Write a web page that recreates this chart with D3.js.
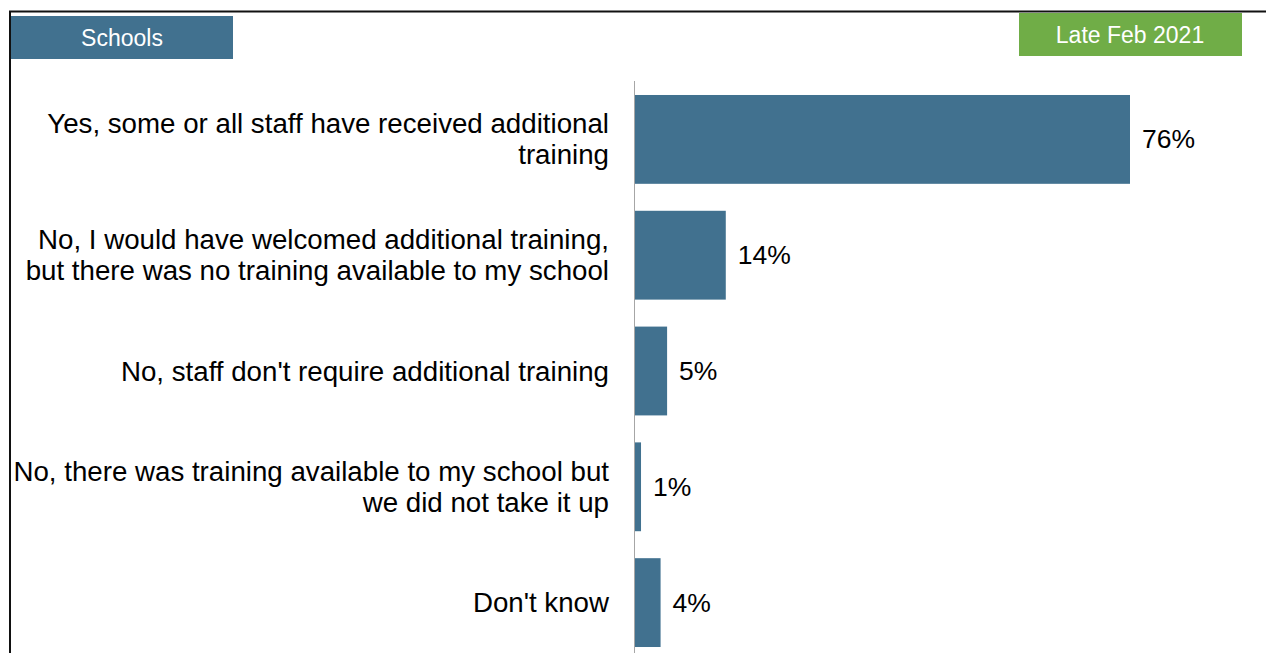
<!DOCTYPE html>
<html>
<head>
<meta charset="utf-8">
<script src="https://cdn.jsdelivr.net/npm/d3@7"></script>
<style>
  body { margin: 0; background: #fff; }
  text { font-family: "Liberation Sans", Arial, sans-serif; }
</style>
</head>
<body>
<div id="chart"></div>
<script>
const categories = [
    ["Yes, some or all staff have received additional", "training"],
    ["No, I would have welcomed additional training,", "but there was no training available to my school"],
    ["No, staff don't require additional training"],
    ["No, there was training available to my school but", "we did not take it up"],
    ["Don't know"]
];
const values = [76, 14, 5, 1, 4];
const keys = categories.map((c, i) => "c" + i);

const width = 1266;
const height = 653;
const barColor = "#41718f";

const svg = d3.select("#chart")
    .append("svg")
    .attr("width", width)
    .attr("height", height);

// frame lines
svg.append("line")
    .attr("x1", 9).attr("x2", width).attr("y1", 11.5).attr("y2", 11.5)
    .attr("stroke", "#111").attr("stroke-width", 2);
svg.append("line")
    .attr("x1", 10).attr("x2", 10).attr("y1", 11).attr("y2", height)
    .attr("stroke", "#111").attr("stroke-width", 2);

// header boxes
svg.append("rect")
    .attr("x", 11).attr("y", 16).attr("width", 222).attr("height", 43)
    .attr("fill", barColor);
svg.append("text")
    .attr("x", 122).attr("y", 46)
    .attr("text-anchor", "middle")
    .attr("fill", "white")
    .attr("font-size", 23)
    .text("Schools");

svg.append("rect")
    .attr("x", 1019).attr("y", 13).attr("width", 223).attr("height", 43)
    .attr("fill", "#70ad47");
svg.append("text")
    .attr("x", 1130).attr("y", 43)
    .attr("text-anchor", "middle")
    .attr("fill", "white")
    .attr("font-size", 23)
    .text("Late Feb 2021");

const x = d3.scaleLinear()
    .domain([0, 76])
    .range([634.5, 1130]);

const y = d3.scaleBand()
    .domain(keys)
    .range([81.5, 660.5])
    .paddingInner(0.233)
    .paddingOuter(0.1165);

svg.selectAll(".bar")
    .data(values)
    .enter()
    .append("rect")
    .attr("class", "bar")
    .attr("x", x(0))
    .attr("y", (d, i) => y(keys[i]))
    .attr("width", d => x(d) - x(0))
    .attr("height", y.bandwidth())
    .attr("fill", barColor);

// axis line
svg.append("line")
    .attr("x1", 634.5).attr("x2", 634.5).attr("y1", 81).attr("y2", height)
    .attr("stroke", "#a6a6a6").attr("stroke-width", 1);

svg.selectAll(".val")
    .data(values)
    .enter()
    .append("text")
    .attr("class", "val")
    .attr("x", d => x(d) + 12)
    .attr("y", (d, i) => y(keys[i]) + y.bandwidth() / 2 + 9)
    .attr("font-size", 26.5)
    .attr("fill", "#000")
    .text(d => d + "%");

const lineH = 31;
const labels = svg.selectAll(".label")
    .data(categories)
    .enter()
    .append("text")
    .attr("class", "label")
    .attr("text-anchor", "end")
    .attr("font-size", 27.7)
    .attr("fill", "#000");

labels.each(function(lines, i) {
    const cy = y(keys[i]) + y.bandwidth() / 2;
    const top = cy - (lines.length - 1) * lineH / 2 + 9.5;
    d3.select(this).selectAll("tspan")
        .data(lines)
        .enter()
        .append("tspan")
        .attr("x", 609)
        .attr("y", (d, j) => top + j * lineH)
        .text(d => d);
});
</script>
</body>
</html>
